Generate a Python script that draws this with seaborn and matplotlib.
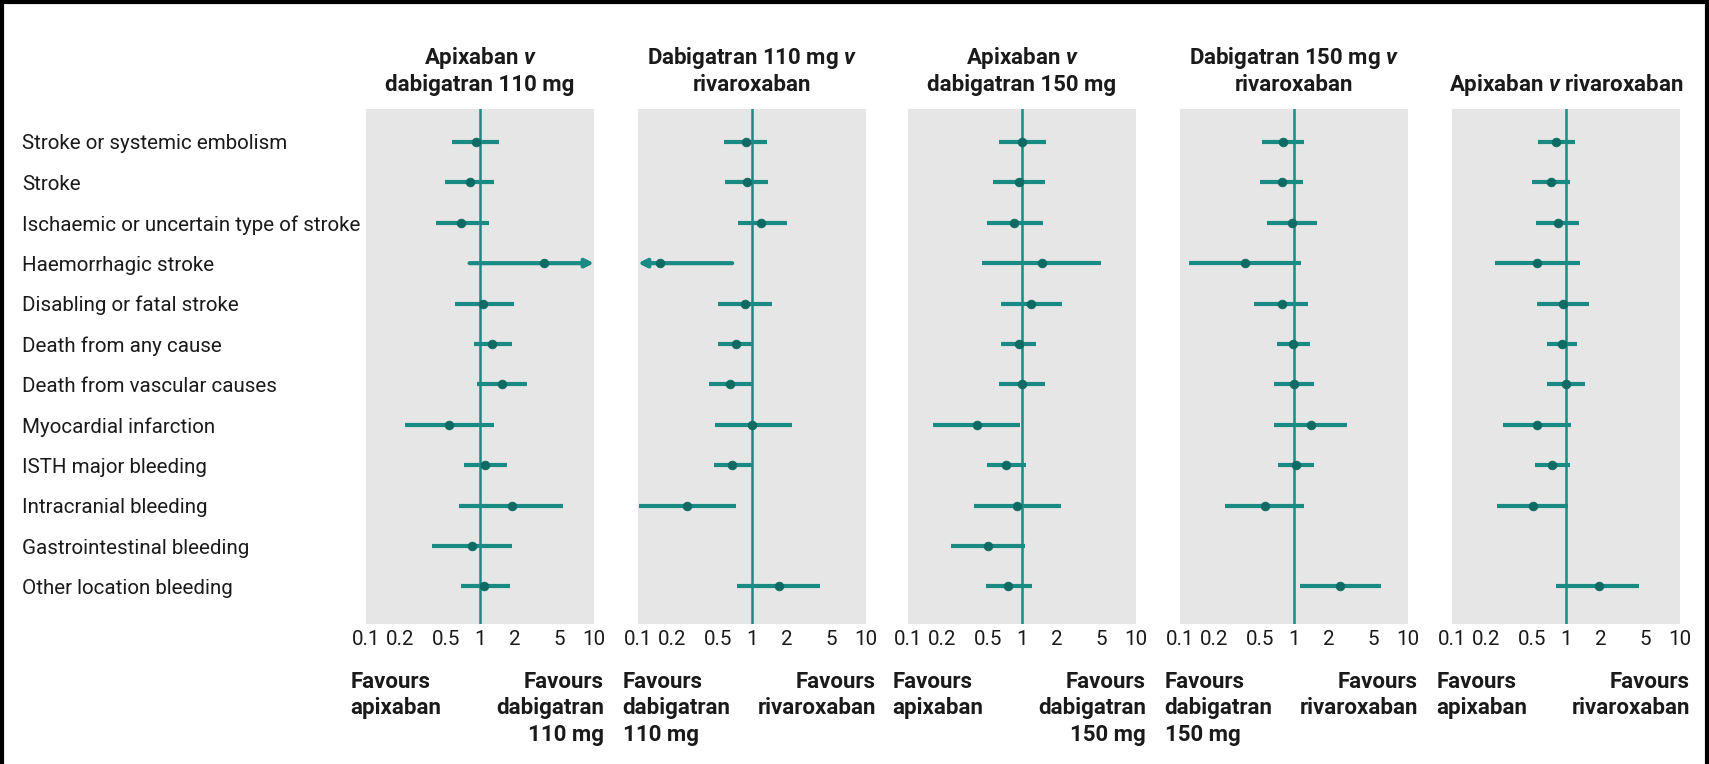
import numpy as np
import pandas as pd
import seaborn as sns
import matplotlib.pyplot as plt
from matplotlib.lines import Line2D
from matplotlib.ticker import NullLocator

# rows (top to bottom)
outcomes = ["Stroke or systemic embolism", "Stroke", "Ischaemic or uncertain type of stroke",
            "Haemorrhagic stroke", "Disabling or fatal stroke", "Death from any cause",
            "Death from vascular causes", "Myocardial infarction", "ISTH major bleeding",
            "Intracranial bleeding", "Gastrointestinal bleeding", "Other location bleeding"]

titles = ["Apixaban $\\mathit{v}$\ndabigatran 110 mg", "Dabigatran 110 mg $\\mathit{v}$\nrivaroxaban",
          "Apixaban $\\mathit{v}$\ndabigatran 150 mg", "Dabigatran 150 mg $\\mathit{v}$\nrivaroxaban",
          "Apixaban $\\mathit{v}$ rivaroxaban"]
fav_left = ["Favours\napixaban", "Favours\ndabigatran\n110 mg", "Favours\napixaban",
            "Favours\ndabigatran\n150 mg", "Favours\napixaban"]
fav_right = ["Favours\ndabigatran\n110 mg", "Favours\nrivaroxaban", "Favours\ndabigatran\n150 mg",
             "Favours\nrivaroxaban", "Favours\nrivaroxaban"]

nan = np.nan
# hazard ratios with 95% CI, one set per comparison (values beyond 0.1-10 drawn as arrows)
hr_apx_dab110 = [0.92, 0.81, 0.68, 3.66, 1.07, 1.28, 1.57, 0.54, 1.11, 1.89, 0.85, 1.08]
lo_apx_dab110 = [0.57, 0.49, 0.41, 0.81, 0.60, 0.89, 0.95, 0.22, 0.72, 0.65, 0.38, 0.68]
hi_apx_dab110 = [1.47, 1.34, 1.20, 13.0, 2.00, 1.89, 2.60, 1.34, 1.72, 5.30, 1.89, 1.82]

hr_dab110_riv = [0.88, 0.90, 1.21, 0.156, 0.87, 0.72, 0.64, 1.01, 0.67, 0.27, nan, 1.72]
lo_dab110_riv = [0.57, 0.58, 0.76, 0.07, 0.50, 0.50, 0.42, 0.47, 0.46, 0.103, nan, 0.74]
hi_dab110_riv = [1.36, 1.38, 2.01, 0.67, 1.49, 1.00, 1.00, 2.24, 1.00, 0.73, nan, 3.98]

hr_apx_dab150 = [1.01, 0.95, 0.85, 1.49, 1.21, 0.94, 1.00, 0.40, 0.73, 0.91, 0.50, 0.75]
lo_apx_dab150 = [0.63, 0.56, 0.49, 0.45, 0.65, 0.65, 0.63, 0.165, 0.49, 0.38, 0.24, 0.48]
hi_apx_dab150 = [1.63, 1.58, 1.54, 4.90, 2.24, 1.33, 1.58, 0.96, 1.09, 2.18, 1.07, 1.22]

hr_dab150_riv = [0.80, 0.78, 0.96, 0.37, 0.78, 0.98, 1.01, 1.40, 1.05, 0.56, nan, 2.55]
lo_dab150_riv = [0.52, 0.50, 0.58, 0.12, 0.45, 0.71, 0.67, 0.67, 0.73, 0.25, nan, 1.13]
hi_dab150_riv = [1.23, 1.21, 1.60, 1.15, 1.32, 1.37, 1.51, 2.92, 1.49, 1.23, nan, 5.80]

hr_apx_riv = [0.82, 0.74, 0.85, 0.56, 0.94, 0.92, 1.01, 0.56, 0.76, 0.51, nan, 1.93]
lo_apx_riv = [0.57, 0.50, 0.55, 0.24, 0.56, 0.68, 0.68, 0.28, 0.53, 0.25, nan, 0.82]
hi_apx_riv = [1.19, 1.09, 1.30, 1.32, 1.59, 1.24, 1.47, 1.11, 1.09, 1.05, nan, 4.40]

xticks = [0.1, 0.2, 0.5, 1, 2, 5, 10]
xticklabels = ["0.1", "0.2", "0.5", "1", "2", "5", "10"]

panels = [(hr_apx_dab110, lo_apx_dab110, hi_apx_dab110),
          (hr_dab110_riv, lo_dab110_riv, hi_dab110_riv),
          (hr_apx_dab150, lo_apx_dab150, hi_apx_dab150),
          (hr_dab150_riv, lo_dab150_riv, hi_dab150_riv),
          (hr_apx_riv, lo_apx_riv, hi_apx_riv)]

sns.set_theme(style="white")
plt.rcParams['font.family'] = ['Roboto', 'DejaVu Sans']
plt.rcParams['mathtext.fontset'] = 'custom'
plt.rcParams['mathtext.it'] = 'Roboto:italic:bold'
plt.rcParams['mathtext.rm'] = 'Roboto:bold'

teal = '#1a8a84'
dark = '#0d6b64'
ink = '#1a1a1a'
W, H = 1709, 764
fs = 14.8     # regular text
fsb = 16      # bold text

fig = plt.figure(figsize=(W / 100, H / 100), dpi=100)
lefts = [366, 638, 908, 1180, 1452]

for i, (hr, lo, hi) in enumerate(panels):
    ax = fig.add_axes([lefts[i] / W, 1 - 624 / H, 228 / W, 515 / H])
    ax.set_facecolor('#e6e6e6')
    ax.set_xscale('log')

    df = pd.DataFrame({'row': range(len(outcomes)), 'hr': hr, 'lo': lo, 'hi': hi}).dropna()

    ax.axvline(1, color=teal, lw=1.8, zorder=2)
    for _, r in df.iterrows():
        if r.hi > 10:
            ax.annotate('', xy=(10, r.row), xytext=(r.lo, r.row),
                        arrowprops=dict(arrowstyle='-|>', color=teal, lw=3, mutation_scale=12,
                                        shrinkA=0, shrinkB=0), zorder=3)
        elif r.lo < 0.1:
            ax.annotate('', xy=(0.1, r.row), xytext=(r.hi, r.row),
                        arrowprops=dict(arrowstyle='-|>', color=teal, lw=3, mutation_scale=12,
                                        shrinkA=0, shrinkB=0), zorder=3)
        else:
            ax.hlines(r.row, r.lo, r.hi, color=teal, lw=3, zorder=3)

    sns.scatterplot(data=df, x='hr', y='row', ax=ax, color=dark, edgecolor=dark,
                    s=40, marker='o', zorder=4, legend=False)
    ax.set_xlim(0.1, 10)
    ax.set_ylim(11.93, -0.815)
    ax.set_xlabel('')
    ax.set_ylabel('')

    ax.set_xticks(xticks)
    ax.set_xticklabels(xticklabels)
    ax.xaxis.set_minor_locator(NullLocator())
    ax.tick_params(axis='x', length=0, pad=4, labelsize=fs, labelcolor=ink)
    ax.grid(False)
    for s in ax.spines.values():
        s.set_visible(False)

    if i == 0:
        ax.set_yticks(range(len(outcomes)))
        ax.set_yticklabels(outcomes, ha='left')
        ax.tick_params(axis='y', length=0, pad=(366 - 22) * 0.72, labelsize=fs, labelcolor=ink)
    else:
        ax.set_yticks([])

    ax.set_title(titles[i], fontsize=fsb, fontweight='bold', color=ink, pad=13, linespacing=1.2)

    ax.annotate(fav_left[i], xy=(0, 0), xycoords='axes fraction', xytext=(-11, -34),
                textcoords='offset points', ha='left', va='top', fontsize=fsb,
                fontweight='bold', color=ink, linespacing=1.25)
    ax.annotate(fav_right[i], xy=(1, 0), xycoords='axes fraction', xytext=(7, -34),
                textcoords='offset points', ha='right', va='top', fontsize=fsb,
                fontweight='bold', color=ink, linespacing=1.25)

# image frame
fig.add_artist(Line2D([0.001, 0.001], [0, 1], transform=fig.transFigure, color='black', lw=3))
fig.add_artist(Line2D([0, 1], [0.998, 0.998], transform=fig.transFigure, color='black', lw=3))
fig.add_artist(Line2D([0.999, 0.999], [0, 1], transform=fig.transFigure, color='black', lw=3))

fig.savefig('out.png', dpi=100)
